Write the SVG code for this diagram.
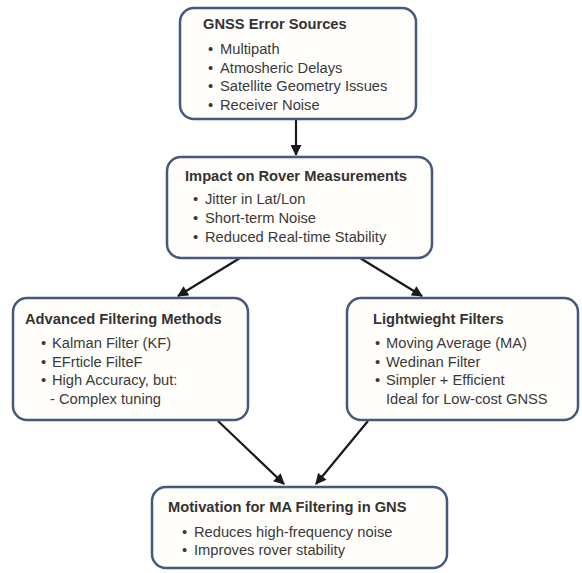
<svg xmlns="http://www.w3.org/2000/svg" width="582" height="573" viewBox="0 0 582 573">
<defs>
<marker id="arr" viewBox="0 0 10 10" refX="9" refY="5" markerWidth="5.5" markerHeight="5" orient="auto" markerUnits="strokeWidth">
<path d="M0,0 L10,5 L0,10 z" fill="#1a1a1a"/>
</marker>
<style>
.box{fill:#fffefb;stroke:#46597a;stroke-width:2.5}
.t{font-family:"Liberation Sans",Arial,sans-serif;font-size:14.7px;font-weight:bold;fill:#333}
.b{font-family:"Liberation Sans",Arial,sans-serif;font-size:14.7px;fill:#3a3a3a}
.c{stroke:#1a1a1a;stroke-width:2.2;fill:none;marker-end:url(#arr)}
</style>
</defs>
<rect width="582" height="573" fill="#ffffff"/>
<g id="connectors">
<line class="c" x1="296" y1="119" x2="296" y2="155"/>
<line class="c" x1="240" y1="258" x2="178" y2="296"/>
<line class="c" x1="360" y1="258" x2="422" y2="296"/>
<line class="c" x1="218" y1="421" x2="284" y2="484"/>
<line class="c" x1="368" y1="421" x2="316" y2="484"/>
</g>
<g id="gnss-error-sources">
<rect class="box" x="180" y="8" width="236" height="111" rx="14"/>
<text class="t" x="203" y="29">GNSS Error Sources</text>
<text class="b" x="208" y="54">•<tspan x="220">Multipath</tspan></text>
<text class="b" x="208" y="72.5">•<tspan x="220">Atmosheric Delays</tspan></text>
<text class="b" x="208" y="91">•<tspan x="220">Satellite Geometry Issues</tspan></text>
<text class="b" x="208" y="109.5">•<tspan x="220">Receiver Noise</tspan></text>
</g>
<g id="impact-on-rover">
<rect class="box" x="167" y="157" width="265" height="101" rx="14"/>
<text class="t" x="185" y="181">Impact on Rover Measurements</text>
<text class="b" x="193" y="204">•<tspan x="205">Jitter in Lat/Lon</tspan></text>
<text class="b" x="193" y="223">•<tspan x="205">Short-term Noise</tspan></text>
<text class="b" x="193" y="242">•<tspan x="205">Reduced Real-time Stability</tspan></text>
</g>
<g id="advanced-filtering">
<rect class="box" x="13" y="298" width="235" height="122" rx="14"/>
<text class="t" x="25" y="324">Advanced Filtering Methods</text>
<text class="b" x="41" y="348">•<tspan x="52">Kalman Filter (KF)</tspan></text>
<text class="b" x="41" y="366.5">•<tspan x="52">EFrticle FilteF</tspan></text>
<text class="b" x="41" y="385">•<tspan x="52">High Accuracy, but:</tspan></text>
<text class="b" x="50" y="403.5">- Complex tuning</text>
</g>
<g id="lightweight-filters">
<rect class="box" x="347" y="298" width="231" height="122" rx="14"/>
<text class="t" x="373" y="324">Lightwieght Filters</text>
<text class="b" x="375" y="348">•<tspan x="386">Moving Average (MA)</tspan></text>
<text class="b" x="375" y="366.5">•<tspan x="386">Wedinan Filter</tspan></text>
<text class="b" x="375" y="385">•<tspan x="386">Simpler + Efficient</tspan></text>
<text class="b" x="386" y="403.5">Ideal for Low-cost GNSS</text>
</g>
<g id="motivation">
<rect class="box" x="152" y="487" width="295" height="81" rx="14"/>
<text class="t" x="168" y="512">Motivation for MA Filtering in GNS</text>
<text class="b" x="182" y="537">•<tspan x="194">Reduces high-frequency noise</tspan></text>
<text class="b" x="182" y="555">•<tspan x="194">Improves rover stability</tspan></text>
</g>
</svg>
